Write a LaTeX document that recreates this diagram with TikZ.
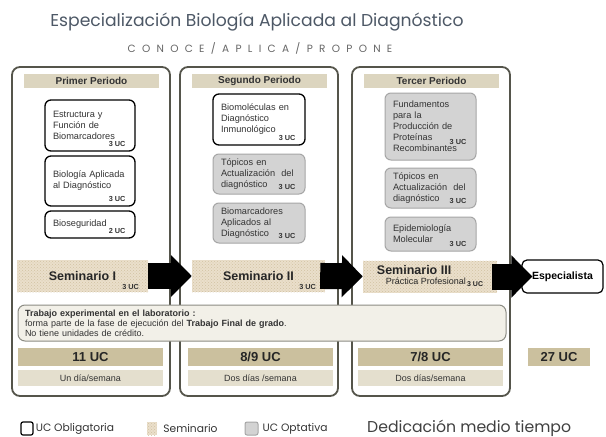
\documentclass[tikz,border=0pt]{standalone}
\usepackage{fontspec}
\setmainfont{Liberation Sans}
\newfontfamily\gothic{Poppins}
\newfontfamily\gothicwide[LetterSpace=60]{Poppins}
\usepackage{xcolor}
\usepackage{tikz}
\usetikzlibrary{positioning, patterns, arrows.meta}
\definecolor{perline}{HTML}{55554B}
\definecolor{headfill}{HTML}{DCD5BF}
\definecolor{semfill}{HTML}{EADFCB}
\definecolor{semdot}{HTML}{D2C2A2}
\definecolor{totfill}{HTML}{CBC09E}
\definecolor{diafill}{HTML}{E4DFCE}
\definecolor{optfill}{HTML}{D3D3D3}
\definecolor{optline}{HTML}{A6A6A6}
\definecolor{labfill}{HTML}{F2F0E8}
\definecolor{labline}{HTML}{8C8C84}
\definecolor{titlecol}{HTML}{4D5866}
\definecolor{subcol}{HTML}{666666}
\definecolor{txt}{HTML}{333333}
\tikzstyle{blockarrow} = [line width=26pt, -{Triangle[length=21pt,width=41pt]}, black]

\begin{document}
\begin{tikzpicture}[
    x=1pt, y=-1pt,
    period/.style={draw=perline, line width=1.8pt, rounded corners=8pt, fill=white,
      minimum width=158pt, minimum height=329pt},
    head/.style={fill=headfill, minimum width=135pt, minimum height=14pt, inner sep=0pt,
      font=\bfseries\fontsize{10}{11}\selectfont, text=txt},
    course/.style={rounded corners=6pt, text width=74pt, inner xsep=8pt, inner ysep=3pt,
      align=left, font=\fontsize{9.2}{11}\selectfont, text=txt},
    oblig/.style={course, draw=black, line width=1.3pt, fill=white},
    optat/.style={course, draw=optline, line width=1pt, fill=optfill},
    ucl/.style={anchor=south east, xshift=-9pt, yshift=4pt, inner sep=1pt,
      font=\bfseries\fontsize{7.3}{8}\selectfont, text=txt},
    uc/.style={label={[ucl]south east:#1}},
    semuc/.style={label={[ucl, xshift=1pt, yshift=-3pt]south east:#1}},
    semband/.style={fill=semfill, postaction={pattern=crosshatch dots, pattern color=semdot},
      minimum height=32pt, inner sep=2pt, font=\bfseries\fontsize{12.5}{13}\selectfont, text=black!85},
    final/.style={draw=black, line width=1.2pt, rounded corners=5pt, fill=white,
      minimum width=81pt, minimum height=33pt, font=\bfseries\fontsize{10.5}{12}\selectfont},
    lab/.style={draw=labline, line width=1pt, rounded corners=7pt, fill=labfill,
      text width=474pt, inner xsep=7pt, minimum height=36pt, align=left,
      font=\fontsize{9}{10}\selectfont, text=txt},
    tot/.style={fill=totfill, minimum height=18pt, inner sep=0pt,
      font=\bfseries\fontsize{13}{14}\selectfont, text=black!85},
    dia/.style={fill=diafill, minimum height=16pt, inner sep=0pt,
      font=\fontsize{9}{10}\selectfont, text=txt},
    legtext/.style={inner sep=0pt, font=\gothic\fontsize{10.7}{12}\selectfont, text=txt},
  ]
  \useasboundingbox (0,0) rectangle (606,437);

  \node[font=\gothic\fontsize{17.2}{20}\selectfont, text=titlecol] (title) at (257,22)
    {Especialización Biología Aplicada al Diagnóstico};
  \node[font=\gothicwide\fontsize{10.5}{12}\selectfont, text=subcol] (sub) at (260,48)
    {CONOCE/APLICA/PROPONE};

  \node[period] (p1) at (91,231.5) {};
  \node[period] (p2) at (259,231.5) {};
  \node[period] (p3) at (431,231.5) {};

  \node[head] (h1) at (91.5,81) {Primer Periodo};
  \node[head] (h2) at (259.5,81) {Segundo Periodo};
  \node[head] (h3) at (431.5,81) {Tercer Periodo};

  \node[oblig, minimum height=51pt, uc=3 UC] (a1) at (90,125.5) {Estructura y\\Función de\\Biomarcadores};
  \node[oblig, minimum height=50pt, uc=3 UC] (a2) at (90,181) {Biología Aplicada\\al Diagnóstico};
  \node[oblig, minimum height=27pt, uc=2 UC] (a3) at (90,224.5) {Bioseguridad};

  \node[oblig, text width=76pt, minimum height=51pt, uc=3 UC] (b1) at (259,119.5) {Biomoléculas en\\Diagnóstico\\Inmunológico};
  \node[optat, text width=76pt, minimum height=40pt, uc=3 UC] (b2) at (259,174) {Tópicos en\\Actualización\ \ del\\diagnóstico};
  \node[optat, text width=76pt, minimum height=40pt, uc=3 UC] (b3) at (259,223) {Biomarcadores\\Aplicados al\\Diagnóstico};

  \node[optat, text width=75pt, minimum height=67pt,
    label={[ucl, yshift=11pt]south east:3 UC}] (c1) at (430.5,126.5) {Fundamentos\\para la\\Producción de\\Proteínas\\Recombinantes};
  \node[optat, text width=75pt, minimum height=40pt, uc=3 UC] (c2) at (430.5,188) {Tópicos en\\Actualización\ \ del\\diagnóstico};
  \node[optat, text width=75pt, minimum height=34pt, uc=3 UC] (c3) at (430.5,234) {Epidemiología\\Molecular};

  \node[semband, minimum width=131pt, semuc=3 UC] (s1) at (82.5,276) {Seminario I};
  \node[semband, minimum width=133pt, semuc=3 UC] (s2) at (258.5,276) {Seminario II};
  \node[semband, minimum width=134pt, align=left] (s3) at (430,276.5)
    {Seminario III\\[-3pt]\hspace*{9pt}{\mdseries\fontsize{9}{10}\selectfont Práctica Profesional\raisebox{-2pt}{\bfseries\fontsize{7}{7}\selectfont\,3 UC}}};
  \node[final] (fin) at (562.5,276.5) {Especialista};

  \draw[blockarrow] (s1.east) -- (s2.west);
  \draw[blockarrow, shorten <=-5pt] (s2.east) -- (s3.west);
  \draw[blockarrow, shorten <=-5pt, shorten >=-11pt] (s3.east) -- (fin.west);

  \node[lab] (trabajo) at (262,323)
    {\textbf{Trabajo experimental en el laboratorio :}\\
     forma parte de la fase de ejecución del \textbf{Trabajo Final de grado}.\\
     No tiene unidades de crédito.};

  \node[tot, minimum width=145pt] (tot1) at (90.5,357) {11 UC};
  \node[tot, minimum width=145pt] (tot2) at (260.5,357) {8/9 UC};
  \node[tot, minimum width=145pt] (tot3) at (430.5,357) {7/8 UC};
  \node[tot, minimum width=62pt] (tot4) at (559,357) {27 UC};

  \node[dia, minimum width=145pt] (dia1) at (90.5,378) {Un día/semana};
  \node[dia, minimum width=145pt] (dia2) at (260.5,378) {Dos días /semana};
  \node[dia, minimum width=145pt] (dia3) at (430.5,378) {Dos días/semana};

  \node[draw=black, line width=1.2pt, rounded corners=2pt, minimum width=12pt,
    minimum height=13pt, inner sep=0pt] (kob) at (27,428.5) {};
  \node[legtext, right=2pt of kob] (tob) {UC Obligatoria};
  \node[semband, minimum width=10pt, minimum height=13pt, inner sep=0pt] (ksem) at (152,428.5) {};
  \node[legtext, right=6pt of ksem] (tsem) {Seminario};
  \node[draw=optline, fill=optfill, line width=1pt, rounded corners=2pt, minimum width=13pt,
    minimum height=13pt, inner sep=0pt] (kopt) at (251.5,428.5) {};
  \node[legtext, right=4pt of kopt] (topt) {UC Optativa};
  \node[anchor=west, inner sep=0pt, font=\gothic\fontsize{15.7}{18}\selectfont, text=black!75] (ded)
    at (367,428) {Dedicación medio tiempo};
\end{tikzpicture}
\end{document}
